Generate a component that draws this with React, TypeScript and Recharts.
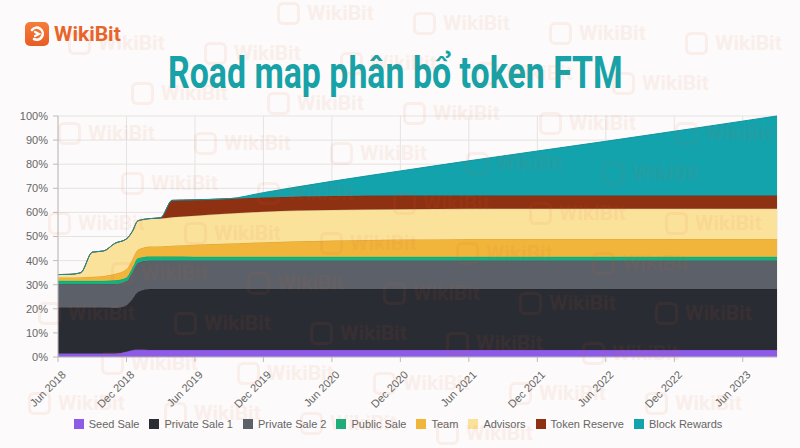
import React from "react";
import { AreaChart, Area, XAxis, YAxis, CartesianGrid, Legend } from "recharts";

// months since Jun 2018
const months = [0, 1, 2, 3, 4, 5, 6, 6.5, 7, 8, 9, 10, 12, 15, 18, 24, 30, 36, 48, 63];
const seedSale = [1.5, 1.5, 1.5, 1.5, 1.5, 1.5, 2.2, 2.8, 3, 2.9, 2.9, 2.9, 2.9, 2.9, 2.9, 2.9, 2.9, 2.9, 2.9, 2.9];
const privateSale1 = [19, 19, 19, 19, 19, 18.9, 19.3, 21.2, 24, 25.3, 25.3, 25.3, 25.3, 25.3, 25.3, 25.3, 25.3, 25.3, 25.3, 25.3];
const privateSale2 = [9.8, 9.8, 9.8, 9.8, 9.8, 9.9, 10, 11, 12, 11.8, 11.8, 11.8, 11.8, 11.8, 11.8, 11.8, 11.8, 11.8, 11.8, 11.8];
const publicSale = [1.3, 1.3, 1.3, 1.3, 1.3, 1.5, 1.5, 1.8, 2, 1.7, 1.7, 1.7, 1.6, 1.6, 1.6, 1.6, 1.6, 1.6, 1.6, 1.6];
const team = [1.4, 1.4, 1.5, 1.7, 2, 2.7, 3.5, 3.7, 3.5, 4.1, 4.3, 4.5, 5, 5.5, 6, 6.7, 7.2, 7.4, 7.4, 7.4];
const advisors = [1.2, 1.3, 1.9, 10.2, 10.4, 12.7, 12.5, 11.5, 12, 11.6, 11.5, 11.8, 12, 12.4, 12.7, 12.7, 12.5, 12.5, 12.5, 12.5];
const tokenReserve = [0, 0, 0, 0, 0, 0, 0, 0, 0, 0, 0.3, 7, 6.6, 6.2, 5.9, 5.8, 5.7, 5.5, 5.5, 5.5];
const blockRewards = [0, 0, 0, 0, 0, 0, 0, 0, 0, 0, 0, 0, 0, 0, 2, 6.1, 10.2, 14.4, 22.5, 33];

const xTicks = [0, 6, 12, 18, 24, 30, 36, 42, 48, 54, 60];
const xTickLabels = ["Jun 2018", "Dec 2018", "Jun 2019", "Dec 2019", "Jun 2020", "Dec 2020", "Jun 2021", "Dec 2021", "Jun 2022", "Dec 2022", "Jun 2023"];
const yTicks = [0, 10, 20, 30, 40, 50, 60, 70, 80, 90, 100];

const seriesNames = ["Seed Sale", "Private Sale 1", "Private Sale 2", "Public Sale", "Team", "Advisors", "Token Reserve", "Block Rewards"];
const seriesKeys = ["seed", "ps1", "ps2", "pub", "team", "adv", "tr", "br"];
const seriesValues = [seedSale, privateSale1, privateSale2, publicSale, team, advisors, tokenReserve, blockRewards];
const fills = ["#8e5be6", "#2a2c33", "#5c6068", "#14b27e", "#f1b53c", "#fbe29b", "#8e3112", "#12a3ad"];
const strokes = ["#7f4fd6", "#24262c", "#52565d", "#0fa06f", "#dea232", "#d9c58a", "#7e2b10", "#0f959e"];

const data = months.map((m, i) => {
  const row: Record<string, number> = { m };
  seriesKeys.forEach((k, s) => {
    row[k] = seriesValues[s][i];
  });
  return row;
});

const FONT = "'Liberation Sans', Arial, Helvetica, sans-serif";

const XTick = (props: any) => {
  const { x, y, payload } = props;
  const idx = xTicks.indexOf(payload.value);
  const label = idx >= 0 ? xTickLabels[idx] : "";
  return (
    <g transform={`translate(${x + 3},${y + 6})`}>
      <text x={0} y={0} dy="0.71em" textAnchor="end" transform="rotate(-45)" fill="#666" fontSize={11} fontFamily={FONT}>
        {label}
      </text>
    </g>
  );
};

const LegendContent = () => (
  <div style={{ display: "flex", justifyContent: "center", alignItems: "center", fontFamily: FONT, fontSize: 11, color: "#666", width: 800, marginLeft: 3 }}>
    {seriesNames.map((n, i) => (
      <div key={n} style={{ display: "flex", alignItems: "center", marginRight: 10 }}>
        <span style={{ display: "inline-block", width: 10, height: 10, background: fills[i], marginRight: 5 }} />
        <span>{n}</span>
      </div>
    ))}
  </div>
);

// faint background watermark tiling (decoration)
const WM_W = 104;
const WM_H = 26;
const watermarks: { x: number; y: number }[] = [];
for (let i = -8; i <= 8; i++) {
  for (let j = -4; j <= 12; j++) {
    const x = 413 + i * 136 + j * 63;
    const y = 10 + i * 10 + j * 50;
    if (x >= 0 && y >= 0 && x + WM_W <= 800 && y + WM_H <= 448) watermarks.push({ x, y });
  }
}

export default function App() {
  return (
    <div style={{ position: "absolute", left: 0, top: 0, width: 800, height: 448, background: "#fcfafa", overflow: "hidden" }}>
      {/* logo */}
      <div style={{ position: "absolute", left: 25, top: 22, width: 24, height: 24, borderRadius: 5, background: "linear-gradient(#f57d3c,#e85c22)" }}>
        <svg width={24} height={24} viewBox="0 0 24 24">
          <path d="M7 8 A6 6 0 1 1 9 17" fill="none" stroke="#fff" strokeWidth={2.6} strokeLinecap="round" />
          <path d="M10 10 L14 12 L10 14" fill="none" stroke="#fff" strokeWidth={2.2} strokeLinecap="round" />
        </svg>
      </div>
      <div style={{ position: "absolute", left: 54, top: 21, fontFamily: "Roboto, sans-serif", fontWeight: 700, fontSize: 21, color: "#e8652a", lineHeight: "26px" }}>
        WikiBit
      </div>
      {/* title */}
      <div style={{ position: "absolute", left: 0, top: 47, width: 800, textAlign: "center" }}>
        <span style={{ display: "inline-block", fontFamily: "Roboto, sans-serif", fontWeight: 700, fontSize: 44, color: "#17a2a7", transform: "scaleX(0.77)", transformOrigin: "center", lineHeight: "52px", whiteSpace: "nowrap", marginLeft: -10 }}>
          Road map phân bổ token FTM
        </span>
      </div>
      <div style={{ position: "absolute", left: 0, top: 0 }}>
        <AreaChart width={800} height={448} data={data} margin={{ top: 116, right: 23, bottom: 18, left: 0 }}>
          <CartesianGrid stroke="#e6e3e3" strokeWidth={1} />
          <XAxis
            dataKey="m"
            type="number"
            domain={[0, 63]}
            ticks={xTicks}
            tick={<XTick />}
            height={61}
            interval={0}
            axisLine={{ stroke: "#bdbdbd" }}
            tickLine={{ stroke: "#bdbdbd" }}
            tickSize={5}
          />
          <YAxis
            type="number"
            domain={[0, 100]}
            ticks={yTicks}
            width={58}
            tickFormatter={(v: number) => `${v}%`}
            tick={{ fill: "#666", fontSize: 11, fontFamily: FONT }}
            axisLine={{ stroke: "#bdbdbd" }}
            tickLine={{ stroke: "#bdbdbd" }}
            tickSize={5}
            tickMargin={5}
          />
          {seriesKeys.map((k, i) => (
            <Area
              key={k}
              type="monotone"
              dataKey={k}
              name={seriesNames[i]}
              stackId="1"
              fill={fills[i]}
              fillOpacity={1}
              stroke={strokes[i]}
              strokeWidth={1}
              isAnimationActive={false}
              dot={false}
              activeDot={false}
            />
          ))}
          <Legend verticalAlign="bottom" content={<LegendContent />} wrapperStyle={{ left: 0, width: 800 }} />
        </AreaChart>
      </div>
      {/* watermark overlay */}
      <div style={{ position: "absolute", left: 0, top: 0, width: 800, height: 448, pointerEvents: "none" }}>
        {watermarks.map((w, i) => (
          <div key={i} style={{ position: "absolute", left: w.x, top: w.y, width: WM_W, height: WM_H, display: "flex", alignItems: "center", opacity: 0.07, color: "#e0602a", fontFamily: "Roboto, sans-serif", fontWeight: 700, fontSize: 21, lineHeight: "26px", whiteSpace: "nowrap" }}>
            <span style={{ display: "inline-block", boxSizing: "border-box", width: 23, height: 23, border: "3px solid #e0602a", borderRadius: 6, marginRight: 7 }} />
            WikiBit
          </div>
        ))}
      </div>
    </div>
  );
}
